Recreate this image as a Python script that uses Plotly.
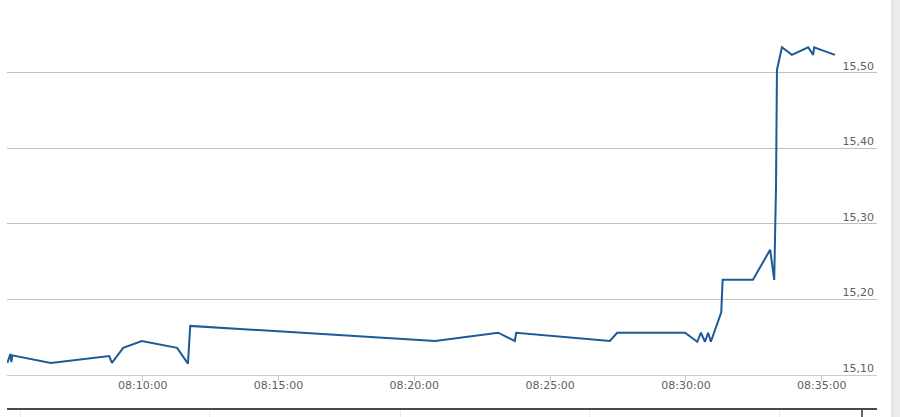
import plotly.graph_objects as go

DAY = "2013-05-10 "

times = [
    "08:05:01", "08:05:08", "08:05:10", "08:05:12", "08:06:37", "08:08:46", "08:08:52",
    "08:09:17", "08:09:58", "08:11:16", "08:11:40", "08:11:45", "08:20:46", "08:23:05",
    "08:23:42", "08:23:45", "08:27:12", "08:27:28", "08:29:58", "08:30:25", "08:30:33",
    "08:30:42", "08:30:49", "08:30:55", "08:31:18", "08:31:21", "08:32:28", "08:33:06",
    "08:33:15", "08:33:19", "08:33:21", "08:33:32", "08:33:54", "08:34:30", "08:34:41",
    "08:34:43", "08:35:29",
]
prices = [
    15.116, 15.128, 15.117, 15.126, 15.116, 15.125, 15.116,
    15.136, 15.145, 15.136, 15.115, 15.165, 15.145, 15.156,
    15.145, 15.156, 15.145, 15.156, 15.156, 15.144, 15.156,
    15.144, 15.156, 15.144, 15.183, 15.226, 15.226, 15.266,
    15.226, 15.352, 15.504, 15.534, 15.524, 15.534, 15.524,
    15.534, 15.524,
]

y_ticks = [15.10, 15.20, 15.30, 15.40, 15.50]
x_range = ["08:05:00.3", "08:37:02"]
y_range = [15.10, 15.5834]
nav_grid = [0.015, 0.233, 0.452, 0.670, 0.888]

W, H = 900, 417
L, R = 7, 23
plot_top, plot_bottom, nav_top = 10, 375, 409.5

fig = go.Figure()
fig.add_trace(go.Scatter(
    x=[DAY + t for t in times], y=prices, mode="lines",
    line=dict(color="#1c5a98", width=2), hoverinfo="skip", showlegend=False,
    xaxis="x", yaxis="y",
))
fig.add_trace(go.Scatter(x=[None], y=[None], xaxis="x3", yaxis="y",
                         showlegend=False, hoverinfo="skip"))
fig.add_trace(go.Scatter(x=[None], y=[None], xaxis="x2", yaxis="y2",
                         showlegend=False, hoverinfo="skip"))

font = dict(family="DejaVu Sans, Verdana, sans-serif", size=11, color="#606060")
xr = [DAY + x_range[0], DAY + x_range[1]]

fig.update_layout(
    width=W, height=H,
    margin=dict(l=L, r=R, t=0, b=0, pad=0),
    paper_bgcolor="white", plot_bgcolor="white",
    separators=",.",
    showlegend=False,
    font=font,
    xaxis=dict(
        domain=[0, 1], anchor="y", automargin=False,
        type="date", range=xr,
        tick0=DAY + "08:00:00", dtick=300000, tickformat="%H:%M:%S",
        showgrid=False, zeroline=False,
        showline=True, linecolor="#C0D0E0", linewidth=1,
        ticks="", tickfont=font,
    ),
    xaxis3=dict(
        overlaying="x", anchor="y", automargin=False,
        type="date", range=xr,
        tick0=DAY + "08:00:00", dtick=300000,
        showgrid=False, zeroline=False, showline=False, showticklabels=False,
        ticks="outside", ticklen=5, tickcolor="#C0D0E0", tickwidth=1,
    ),
    yaxis=dict(
        domain=[(H - plot_bottom) / H, (H - plot_top) / H], anchor="x",
        automargin=False,
        range=y_range, tickvals=y_ticks, tickformat=".2f",
        side="right", ticklabelposition="inside", ticklabelshift=-7,
        ticklabeloverflow="allow",
        ticks="", showline=False, zeroline=False,
        showgrid=True, gridcolor="#C0C0C0", gridwidth=1,
        tickfont=font,
    ),
    xaxis2=dict(
        domain=[0, 1], anchor="y2", side="top", range=[0, 1], automargin=False,
        tickvals=nav_grid, showticklabels=False, ticks="",
        showgrid=True, gridcolor="#ececec", zeroline=False,
        showline=True, linecolor="#4a4a4a", linewidth=2,
    ),
    yaxis2=dict(
        domain=[0, (H - nav_top) / H], anchor="x2", range=[0, 1], automargin=False,
        showticklabels=False, showgrid=False, zeroline=False, ticks="",
    ),
    shapes=[
        dict(type="line", xref="paper", yref="paper",
             x0=(862 - L) / (W - L - R), x1=(862 - L) / (W - L - R),
             y0=0, y1=(H - nav_top) / H, line=dict(color="#333333", width=1.5)),
        dict(type="rect", xref="paper", yref="paper",
             x0=(892 - L) / (W - L - R), x1=(901 - L) / (W - L - R),
             y0=-0.01, y1=1.01, fillcolor="#ececec",
             line=dict(color="#d2d2d2", width=1)),
    ],
)

fig.write_html(
    "out.html",
    config={"displayModeBar": False, "responsive": False},
    post_script="document.body.style.margin='0';document.body.style.overflow='hidden';",
)
